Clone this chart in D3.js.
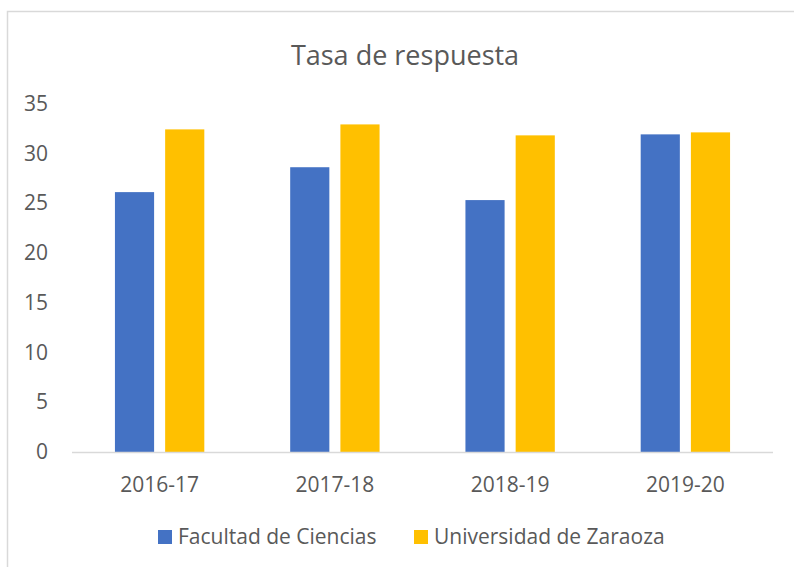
<!DOCTYPE html>
<html>
<head>
<meta charset="utf-8">
<script src="https://cdn.jsdelivr.net/npm/d3@7"></script>
<style>
  body { margin: 0; background: #fff; }
  text { font-family: "Open Sans", sans-serif; fill: #595959; }
</style>
</head>
<body>
<svg id="chart" width="794" height="567"></svg>
<script>
const years = ["2016-17", "2017-18", "2018-19", "2019-20"];
const series = ["Facultad de Ciencias", "Universidad de Zaraoza"];
const facultad = [26.1, 28.6, 25.3, 31.9];
const universidad = [32.4, 32.9, 31.8, 32.1];
const yTicks = [0, 5, 10, 15, 20, 25, 30, 35];
const colors = ["#4472c4", "#ffc000"];

const svg = d3.select("#chart");

// chart frame
svg.append("rect")
  .attr("x", 7.5).attr("y", 11.5)
  .attr("width", 820).attr("height", 600)
  .attr("fill", "none")
  .attr("stroke", "#d9d9d9")
  .attr("stroke-width", 1.5);

const plotLeft = 72, plotRight = 773, plotTop = 103.5, plotBottom = 452;

const x0 = d3.scaleBand().domain(years).range([plotLeft, plotRight]).paddingInner(0.49).paddingOuter(0.245);
const x1 = d3.scaleBand().domain(series).range([0, x0.bandwidth()]).paddingInner(0.22);
const y = d3.scaleLinear().domain([0, 35]).range([plotBottom, plotTop]);

svg.append("text")
  .attr("x", 405).attr("y", 65)
  .attr("text-anchor", "middle")
  .style("font-size", "27px")
  .text("Tasa de respuesta");

const rows = years.map((yr, i) => ({ year: yr, values: [facultad[i], universidad[i]] }));

const groups = svg.selectAll("g.grp")
  .data(rows)
  .join("g")
  .attr("class", "grp")
  .attr("transform", (d) => `translate(${x0(d.year)},0)`);

groups.selectAll("rect")
  .data((d) => d.values.map((v, j) => ({ key: series[j], value: v, idx: j })))
  .join("rect")
  .attr("x", (d) => x1(d.key))
  .attr("y", (d) => y(d.value))
  .attr("width", x1.bandwidth())
  .attr("height", (d) => plotBottom - y(d.value))
  .attr("fill", (d) => colors[d.idx]);

// y axis labels (no line)
const yAxis = svg.append("g")
  .attr("transform", `translate(${plotLeft - 24},0)`)
  .call(d3.axisLeft(y).tickValues(yTicks).tickSize(0).tickPadding(0));
yAxis.select(".domain").remove();
yAxis.selectAll("text")
  .style("font-size", "21px")
  .attr("fill", null);

// x axis
const xAxis = svg.append("g")
  .attr("transform", `translate(0,${plotBottom})`)
  .call(d3.axisBottom(x0).tickSize(0).tickPadding(25));
xAxis.select(".domain")
  .attr("stroke", "#d9d9d9")
  .attr("stroke-width", 1.5)
  .attr("d", `M${plotLeft},0.5H${plotRight}`);
xAxis.selectAll("text")
  .style("font-size", "21px")
  .attr("fill", null);

// legend
const legendX = [158, 414];
const legend = svg.selectAll("g.leg")
  .data(series)
  .join("g")
  .attr("class", "leg")
  .attr("transform", (d, i) => `translate(${legendX[i]},530)`);
legend.append("rect")
  .attr("width", 14).attr("height", 14)
  .attr("fill", (d, i) => colors[i]);
legend.append("text")
  .attr("x", 20).attr("y", 7)
  .attr("dy", "0.35em")
  .style("font-size", "21px")
  .text((d) => d);
</script>
</body>
</html>
